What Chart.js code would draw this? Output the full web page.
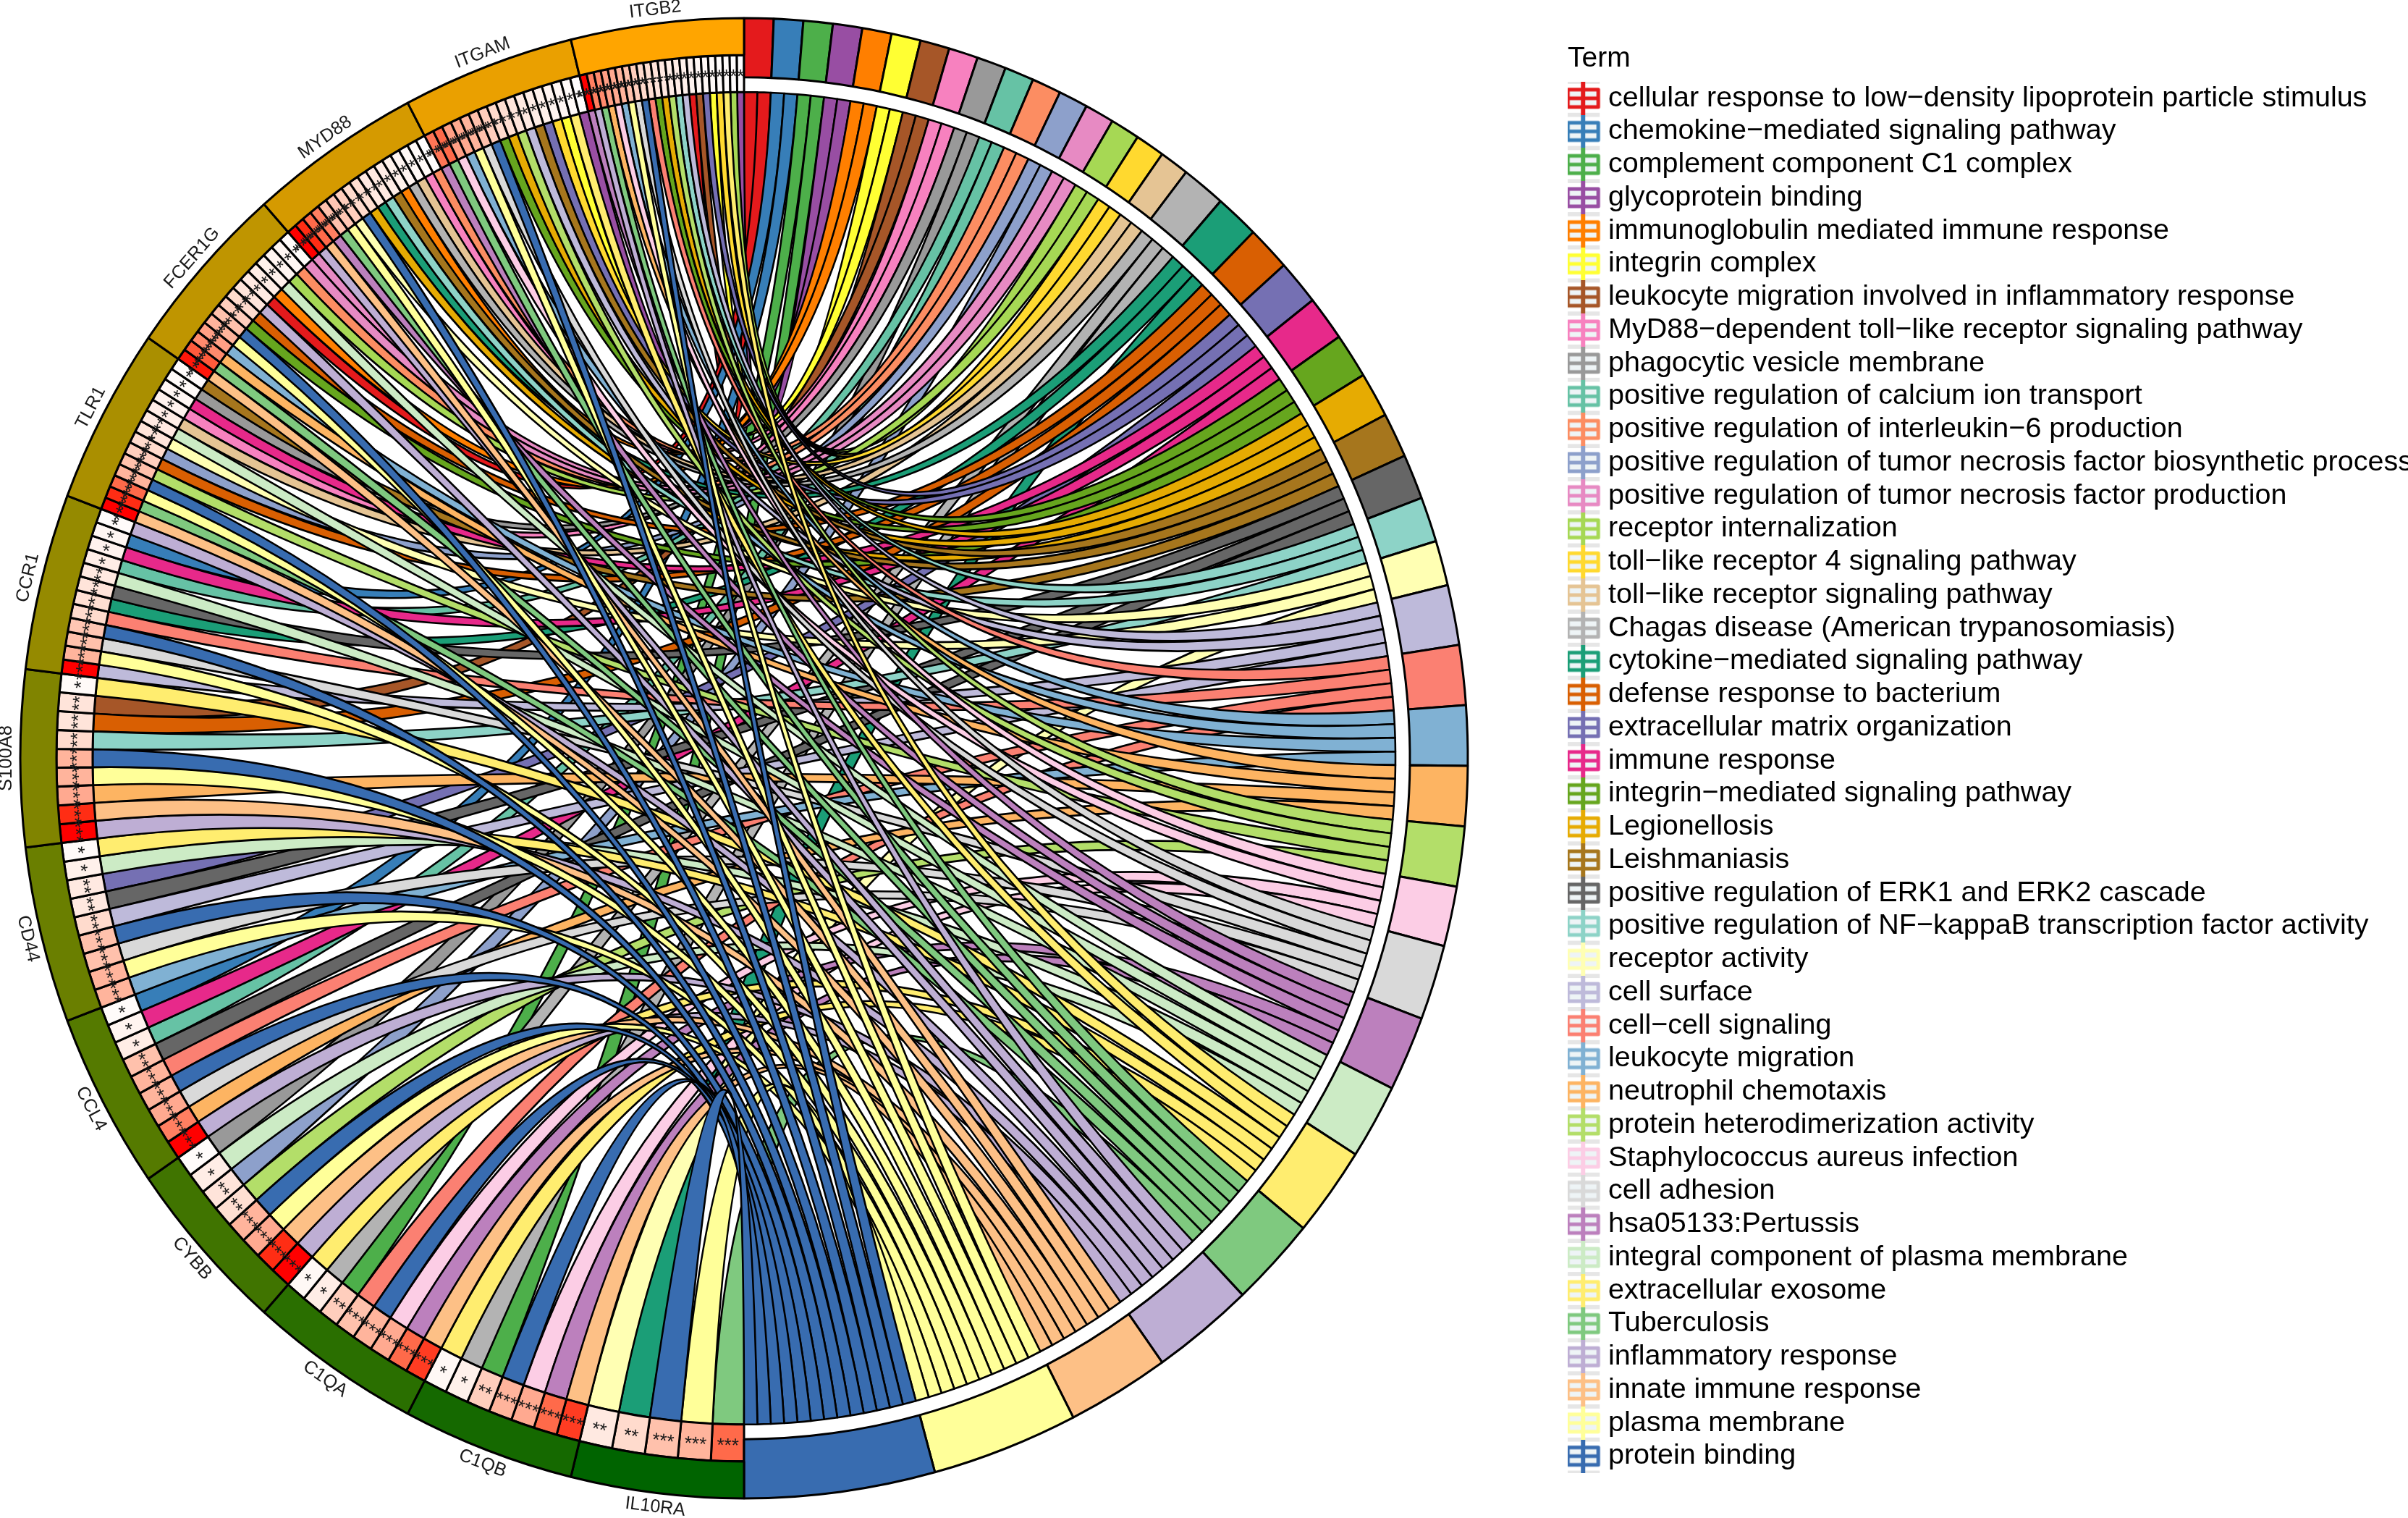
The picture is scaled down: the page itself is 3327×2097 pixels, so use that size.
<!DOCTYPE html>
<html>
<head>
<meta charset="utf-8">
<title>GOChord</title>
<script src="https://cdn.jsdelivr.net/npm/chart.js@4/dist/chart.umd.min.js"></script>
<style>
  html, body { margin: 0; padding: 0; background: #fff; }
  canvas { display: block; }
</style>
</head>
<body>
<canvas id="chord" width="3327" height="2097"></canvas>
<script>
// ===== DATA =====
const termNames = [
  'cellular response to low−density lipoprotein particle stimulus',
  'chemokine−mediated signaling pathway',
  'complement component C1 complex',
  'glycoprotein binding',
  'immunoglobulin mediated immune response',
  'integrin complex',
  'leukocyte migration involved in inflammatory response',
  'MyD88−dependent toll−like receptor signaling pathway',
  'phagocytic vesicle membrane',
  'positive regulation of calcium ion transport',
  'positive regulation of interleukin−6 production',
  'positive regulation of tumor necrosis factor biosynthetic process',
  'positive regulation of tumor necrosis factor production',
  'receptor internalization',
  'toll−like receptor 4 signaling pathway',
  'toll−like receptor signaling pathway',
  'Chagas disease (American trypanosomiasis)',
  'cytokine−mediated signaling pathway',
  'defense response to bacterium',
  'extracellular matrix organization',
  'immune response',
  'integrin−mediated signaling pathway',
  'Legionellosis',
  'Leishmaniasis',
  'positive regulation of ERK1 and ERK2 cascade',
  'positive regulation of NF−kappaB transcription factor activity',
  'receptor activity',
  'cell surface',
  'cell−cell signaling',
  'leukocyte migration',
  'neutrophil chemotaxis',
  'protein heterodimerization activity',
  'Staphylococcus aureus infection',
  'cell adhesion',
  'hsa05133:Pertussis',
  'integral component of plasma membrane',
  'extracellular exosome',
  'Tuberculosis',
  'inflammatory response',
  'innate immune response',
  'plasma membrane',
  'protein binding'
];
const termSizes = [2,2,2,2,2,2,2,2,2,2,2,2,2,2,2,2,3,3,3,3,3,3,3,3,3,3,3,4,4,4,4,4,4,5,5,5,6,6,7,7,10,13];
const termColors = [
  '#E41A1C','#377EB8','#4DAF4A','#984EA3','#FF7F00','#FFFF33','#A65628','#F781BF','#999999',
  '#66C2A5','#FC8D62','#8DA0CB','#E78AC3','#A6D854','#FFD92F','#E5C494','#B3B3B3',
  '#1B9E77','#D95F02','#7570B3','#E7298A','#66A61E','#E6AB02','#A6761D','#666666',
  '#8DD3C7','#FFFFB3','#BEBADA','#FB8072','#80B1D3','#FDB462','#B3DE69','#FCCDE5','#D9D9D9','#BC80BD','#CCEBC5','#FFED6F',
  '#7FC97F','#BEAED4','#FDC086','#FFFF99','#386CB0'
];

// genes run clockwise from 6 o'clock
const geneNames  = ['IL10RA','C1QB','C1QA','CYBB','CCL4','CD44','S100A8','CCR1','TLR1','FCER1G','MYD88','ITGAM','ITGB2'];
const geneColors = ['#006400','#156900','#2A6F00','#407400','#557A00','#6A7F00','#808400','#958A00','#AA8F00','#BF9500','#D59A00','#EAA000','#FFA500'];

// term index of every cell of a gene, clockwise
const il10raTerms = [37,40,41,17,26];
const c1qbTerms   = [39,34,32,41,2,16,36];
const c1qaTerms   = [39,34,32,41,28,2,16,36];
const cybbTerms   = [38,39,40,41,31,11,35,8];
const ccl4Terms   = [38,30,33,41,28,24,9,20,1];
const cd44Terms   = [29,40,33,41,27,24,19,35,36];
const s100a8Terms = [38,39,30,40,41,25,18,6,36];
const ccr1Terms   = [27,40,33,41,28,17,24,35,9,20,1,38];
const tlr1Terms   = [39,37,40,41,31,18,11,26,35,15,7,20,8,23];
const fcer1gTerms = [39,37,30,29,40,41,21,18,38,0,4,35,13,10,12];
const myd88Terms  = [12,38,39,34,37,40,26,41,22,17,25,23,4,16,15,7,10];
const itgamTerms  = [34,37,32,29,40,33,41,21,22,31,27,23,19,14,5,36,3];
const itgb2Terms  = [34,38,37,30,32,29,40,33,41,28,21,22,31,25,27,0,6,19,5,14,36,13,3];

// heat value of every cell, 0 = white, 1 = red
const il10raHeat = [.7,.35,.3,.2,.12];
const c1qbHeat   = [.85,.7,.4,.35,.25,.08,.04];
const c1qaHeat   = [.85,.7,.4,.35,.3,.25,.1,.04];
const cybbHeat   = [1,.9,.4,.35,.18,.15,.1,.02];
const ccl4Heat   = [1,.6,.4,.35,.35,.3,.1,.06,.02];
const cd44Heat   = [.35,.35,.3,.3,.2,.13,.12,.08,.03];
const s100a8Heat = [1,.9,.4,.35,.35,.2,.15,.15,.03];
const ccr1Heat   = [1,.35,.3,.28,.2,.18,.15,.12,.1,.07,.05,.02];
const tlr1Heat   = [1,.9,.7,.35,.3,.25,.2,.15,.12,.1,.07,.05,.03,.02];
const fcer1gHeat = [.95,.75,.55,.45,.35,.3,.25,.2,.15,.12,.1,.08,.06,.05,.02];
const myd88Heat  = [1,.9,.7,.6,.3,.28,.25,.2,.18,.12,.12,.1,.08,.06,.04,.03,.01];
const itgamHeat  = [.65,.7,.45,.4,.35,.3,.25,.2,.18,.15,.12,.1,.08,.06,.05,.03,.01];
const itgb2Heat  = [1,.6,.55,.45,.4,.35,.3,.25,.2,.18,.15,.12,.1,.1,.08,.07,.05,.04,.03,.02,.02,.01,.01];

// number of asterisks in every cell
const il10raStars = [3,3,3,2,2];
const c1qbStars   = [3,3,3,3,2,1,1];
const c1qaStars   = [3,3,3,3,3,2,1,1];
const cybbStars   = [3,3,3,3,2,2,1,1];
const ccl4Stars   = [3,3,3,3,3,2,1,1,1];
const cd44Stars   = [3,3,3,3,2,2,2,1,1];
const s100a8Stars = [3,3,3,3,3,2,2,2,1];
const ccr1Stars   = [3,3,3,3,3,3,2,2,1,1,1,1];
const tlr1Stars   = [3,3,3,3,3,3,3,2,2,1,1,1,1,1];
const fcer1gStars = [3,3,3,3,3,3,2,2,2,1,1,1,1,1,1];
const myd88Stars  = [3,3,3,3,3,3,2,2,2,2,1,1,1,1,1,1,1];
const itgamStars  = [3,3,3,3,3,3,3,2,2,2,1,1,1,1,1,1,1];
const itgb2Stars  = [3,3,3,3,3,3,3,3,2,2,2,2,1,1,1,1,1,1,1,1,1,1,1];

const geneTerms = [il10raTerms,c1qbTerms,c1qaTerms,cybbTerms,ccl4Terms,cd44Terms,s100a8Terms,ccr1Terms,tlr1Terms,fcer1gTerms,myd88Terms,itgamTerms,itgb2Terms];
const geneHeat  = [il10raHeat,c1qbHeat,c1qaHeat,cybbHeat,ccl4Heat,cd44Heat,s100a8Heat,ccr1Heat,tlr1Heat,fcer1gHeat,myd88Heat,itgamHeat,itgb2Heat];
const geneStars = [il10raStars,c1qbStars,c1qaStars,cybbStars,ccl4Stars,cd44Stars,s100a8Stars,ccr1Stars,tlr1Stars,fcer1gStars,myd88Stars,itgamStars,itgb2Stars];

// ======== LAYOUT CONSTANTS ========
const CENTER_X = 1028, CENTER_Y = 1047.5, STRETCH_Y = 1.0225;
const TERM_INNER = 0.92;
const LINE = 3;
const nTerms = termNames.length;
const termTotal = termSizes.reduce((a, b) => a + b, 0);
const geneSpan = termTotal / geneNames.length;

// ======== COLOURS ========
const heatStops = [[0, [255,255,255]], [.2, [255,219,205]], [.35, [255,180,156]], [.7, [255,106,74]], [.9, [255,45,20]], [1, [255,0,0]]];
function heatColor(v) {
  let i = 1;
  while (i < heatStops.length - 1 && v > heatStops[i][0]) i++;
  const [a, ca] = heatStops[i - 1], [b, cb] = heatStops[i];
  const t = (v - a) / (b - a);
  const c = ca.map((x, k) => Math.round(x + (cb[k] - x) * t));
  return `rgb(${c[0]},${c[1]},${c[2]})`;
}

// ======== LEGEND KEY ========
function makeKey(color) {
  const c = document.createElement('canvas');
  c.width = 56; c.height = 46;
  const g = c.getContext('2d');
  g.fillStyle = '#e6e6e6';
  g.fillRect(5, 0, 46, 3);
  g.fillRect(5, 43, 46, 3);
  g.fillStyle = '#eef4f6';
  g.fillRect(7, 11, 42, 24);
  g.strokeStyle = color;
  g.lineWidth = 5;
  g.lineJoin = 'round';
  g.strokeRect(7, 11, 42, 24);
  g.beginPath();
  g.moveTo(7, 23); g.lineTo(49, 23);
  g.stroke();
  g.lineWidth = 6;
  g.beginPath();
  g.moveTo(28, 0); g.lineTo(28, 46);
  g.stroke();
  return c;
}

// ======== RIBBONS, STARS, LABELS ========
function geneStartIndex(g) {
  let idx = nTerms;
  for (let i = 0; i < g; i++) idx += geneTerms[i].length;
  return idx;
}

function drawRibbons(chart) {
  const ctx = chart.ctx;
  const outer = chart.getDatasetMeta(0).data;
  const cells = chart.getDatasetMeta(1).data;
  const ctrl = chart.getDatasetMeta(1).controller;
  const r = ctrl.innerRadius, cx = outer[0].x, cy = outer[0].y;
  const pt = a => [cx + r * Math.cos(a), cy + r * Math.sin(a)];

  for (let t = 0; t < nTerms; t++) {
    const arc = outer[t];
    const unit = (arc.endAngle - arc.startAngle) / termSizes[t];
    let k = 0;
    for (let g = geneNames.length - 1; g >= 0; g--) {
      const pos = geneTerms[g].indexOf(t);
      if (pos < 0) continue;
      const cell = cells[geneStartIndex(g) + pos];
      const a1 = arc.startAngle + unit * k, a2 = a1 + unit;
      k++;
      const b1 = cell.startAngle, b2 = cell.endAngle;
      const pb1 = pt(b1), pa1 = pt(a1);
      ctx.beginPath();
      ctx.arc(cx, cy, r, a1, a2);
      ctx.quadraticCurveTo(cx, cy, pb1[0], pb1[1]);
      ctx.arc(cx, cy, r, b1, b2);
      ctx.quadraticCurveTo(cx, cy, pa1[0], pa1[1]);
      ctx.closePath();
      ctx.fillStyle = termColors[t];
      ctx.fill();
      ctx.lineWidth = 2.6;
      ctx.strokeStyle = '#000';
      ctx.lineJoin = 'round';
      ctx.stroke();
    }
  }
}

function upright(a) {
  // keep tangent text readable, lower left reads downwards
  return Math.sin(a) > 0.001 ? a - Math.PI / 2 : a + Math.PI / 2;
}

function drawTexts(chart) {
  const ctx = chart.ctx;
  const outer = chart.getDatasetMeta(0).data;
  const cells = chart.getDatasetMeta(1).data;
  const cx = outer[0].x, cy = outer[0].y;
  const R = outer[0].outerRadius;
  ctx.textAlign = 'center';
  ctx.textBaseline = 'middle';
  ctx.fillStyle = '#1a1a1a';

  ctx.font = '25px "Liberation Sans"';
  geneNames.forEach((name, g) => {
    const arc = outer[nTerms + g];
    const a = (arc.startAngle + arc.endAngle) / 2;
    ctx.save();
    ctx.translate(cx + (R + 19) * Math.cos(a), cy + (R + 19) * Math.sin(a));
    ctx.rotate(upright(a));
    ctx.fillText(name, 0, 0);
    ctx.restore();
  });

  ctx.font = '26px "Liberation Sans"';
  geneStars.forEach((stars, g) => {
    const start = geneStartIndex(g);
    stars.forEach((n, i) => {
      const cell = cells[start + i];
      const a = (cell.startAngle + cell.endAngle) / 2;
      const r = (cell.innerRadius + cell.outerRadius) / 2;
      ctx.save();
      ctx.translate(cx + r * Math.cos(a), cy + r * Math.sin(a));
      ctx.rotate(upright(a));
      ctx.fillText('*'.repeat(n), 0, 5);
      ctx.restore();
    });
  });
}

const chordPlugin = {
  id: 'chord',
  afterDatasetsUpdate(chart) {
    // the term band is deeper than the gene band
    const outer = chart.getDatasetMeta(0).data;
    for (let i = 0; i < nTerms; i++) outer[i].innerRadius = outer[i].outerRadius * TERM_INNER;
  },
  beforeDatasetsDraw(chart) {
    const ctx = chart.ctx, arc = chart.getDatasetMeta(0).data[0];
    ctx.save();
    ctx.translate(CENTER_X, CENTER_Y);
    ctx.scale(1, STRETCH_Y);
    ctx.translate(-arc.x, -arc.y);
    drawRibbons(chart);
  },
  afterDatasetsDraw(chart) {
    drawTexts(chart);
    chart.ctx.restore();
  }
};

// ======== CHART ========
const cellValues = geneTerms.flatMap(list => list.map(() => geneSpan / list.length));
const cellColors = geneHeat.flat().map(heatColor);

new Chart(document.getElementById('chord'), {
  type: 'doughnut',
  data: {
    labels: termNames.concat(geneNames),
    datasets: [
      {
        data: termSizes.concat(geneNames.map(() => geneSpan)),
        backgroundColor: termColors.concat(geneColors),
        borderColor: '#000',
        borderWidth: LINE,
        weight: 1
      },
      {
        data: termSizes.concat(cellValues),
        backgroundColor: termSizes.map(() => 'rgba(0,0,0,0)').concat(cellColors),
        borderColor: '#000',
        borderWidth: termSizes.map(() => 0).concat(cellValues.map(() => LINE)),
        weight: 1
      }
    ]
  },
  options: {
    responsive: false,
    animation: false,
    devicePixelRatio: 1,
    cutout: '90%',
    rotation: 0,
    layout: { padding: { top: 46, bottom: 48, left: 0, right: 0 } },
    plugins: {
      tooltip: { enabled: false },
      legend: {
        position: 'right',
        align: 'start',
        maxWidth: 1161,
        title: {
          display: true,
          text: 'Term',
          position: 'start',
          color: '#000',
          font: { family: '"Liberation Sans"', size: 39 },
          padding: { top: 16, bottom: 1 }
        },
        labels: {
          usePointStyle: true,
          pointStyleWidth: 30,
          padding: 6.25,
          color: '#000',
          font: { family: '"Liberation Sans"', size: 39.5, lineHeight: 1 },
          generateLabels: () => termNames.map((text, i) => ({
            text,
            pointStyle: makeKey(termColors[i]),
            fontColor: '#000',
            lineWidth: 0,
            hidden: false,
            index: i
          }))
        }
      }
    }
  },
  plugins: [chordPlugin]
});
</script>
</body>
</html>
